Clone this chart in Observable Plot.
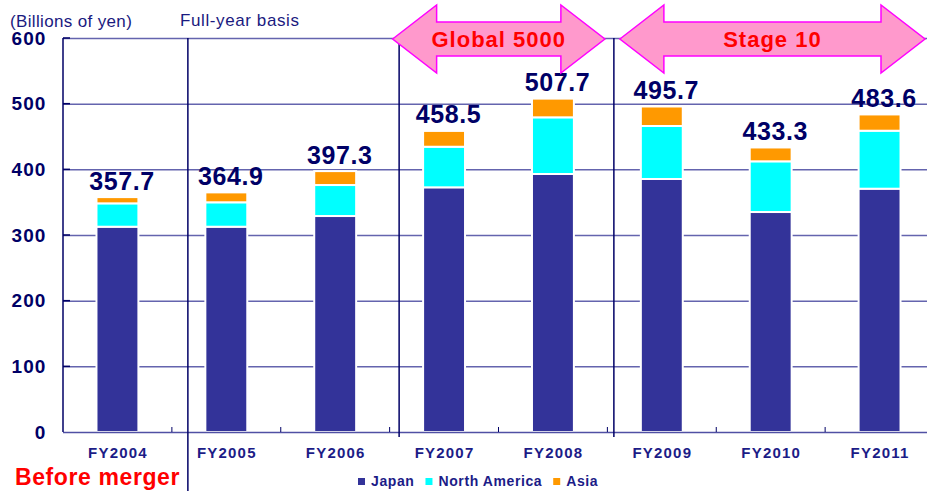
<!DOCTYPE html>
<html>
<head>
<meta charset="utf-8">
<script src="https://cdn.jsdelivr.net/npm/d3@7"></script>
<script src="https://cdn.jsdelivr.net/npm/@observablehq/plot@0.6"></script>
<style>
  body { margin: 0; background: #fff; }
  #wrap { position: relative; width: 927px; height: 491px; overflow: hidden; }
  g[aria-label="x-axis tick label"] text { letter-spacing: 1.2px; }
  g[aria-label="y-axis tick label"] text { letter-spacing: 1.1px; }
  g[aria-label="text"] text { letter-spacing: 0.6px; }
</style>
</head>
<body>
<div id="wrap"></div>
<script>
// ---- data ----
const years = ["FY2004", "FY2005", "FY2006", "FY2007", "FY2008", "FY2009", "FY2010", "FY2011"];
const japan = [312.6, 312.6, 328.9, 372.6, 392.9, 385.3, 335.0, 370.5];
const northAmerica = [35.6, 37.2, 47.2, 61.8, 86.3, 80.7, 77.2, 88.3];
const asia = [9.5, 15.1, 21.2, 24.1, 28.5, 29.7, 21.1, 24.8];
const totals = [357.7, 364.9, 397.3, 458.5, 507.7, 495.7, 433.3, 483.6];
const regions = ["Japan", "North America", "Asia"];
const regionColors = ["#333399", "#00FFFF", "#FF9900"];
const yTicks = [0, 100, 200, 300, 400, 500, 600];
const dividerBefore = ["FY2005", "FY2007", "FY2009"];
const arrowLabels = ["Global 5000", "Stage 10"];
const arrowFrom = ["FY2007", "FY2009"];
const arrowTo = ["FY2008", "FY2011"];
const unitLabel = "(Billions of yen)";
const basisLabel = "Full-year basis";
const mergerLabel = "Before merger";

// ---- tables ----
const rows = years.flatMap((year, i) => [
  {year, region: regions[0], value: japan[i]},
  {year, region: regions[1], value: northAmerica[i]},
  {year, region: regions[2], value: asia[i]}
]);
const totalsTable = years.map((year, i) => ({year, total: totals[i]}));

const font = '"Liberation Sans", Arial, Helvetica, sans-serif';

const chart = Plot.plot({
  width: 927,
  height: 491,
  marginTop: 38,
  marginRight: 0,
  marginBottom: 59,
  marginLeft: 63,
  style: {fontFamily: font, background: "white", overflow: "visible"},
  x: {domain: years, range: [63, 934], paddingInner: 0.615, paddingOuter: 0.3075, align: 0.5, round: false, label: null},
  y: {domain: [0, 600], label: null},
  color: {domain: regions, range: regionColors},
  marks: [
    Plot.ruleY(yTicks.filter(d => d > 0), {stroke: "#6464ae", strokeWidth: 1.5}),
    Plot.barY(rows, {x: "year", y: "value", fill: "region", stroke: "white", strokeWidth: 2}),
    Plot.ruleY([0], {stroke: "#5050a4", strokeWidth: 1.5}),
    Plot.axisY(yTicks, {tickSize: 0, tickPadding: 17, fontSize: 19, fontWeight: "bold", fill: "#000066", label: null}),
    Plot.axisX({tickSize: 0, tickPadding: 14.5, fontSize: 15, fontWeight: "bold", fill: "#1c1c87", label: null}),
    Plot.text(totalsTable, {
      x: "year", y: "total", text: d => d.total.toFixed(1),
      dx: 4, dy: -8, lineAnchor: "bottom",
      fontSize: 25, fontWeight: "bold", fill: "#000066"
    })
  ]
});

document.getElementById("wrap").appendChild(chart);

// ---- decorations drawn with the chart's own scales ----
const svg = d3.select(chart);
const xs = chart.scale("x"), ys = chart.scale("y");
const X = v => xs.apply(v);
const Y = v => ys.apply(v);
const step = xs.step, bw = xs.bandwidth;
const slotStart = v => X(v) - (step - bw) / 2;
const x0 = slotStart(years[0]);
const yTop = Y(600), yBase = Y(0);
const deco = svg.append("g").attr("font-family", font).attr("text-anchor", "start");

// y axis line and inward ticks
deco.append("line").attr("x1", x0).attr("x2", x0).attr("y1", yTop).attr("y2", yBase)
  .attr("stroke", "#000066").attr("stroke-width", 1.5);
yTicks.filter(d => d > 0).forEach(t => {
  deco.append("line").attr("x1", x0).attr("x2", x0 + 7).attr("y1", Y(t)).attr("y2", Y(t))
    .attr("stroke", "#000066").attr("stroke-width", 1.5);
});
// bottom ticks at slot boundaries
years.slice(1).forEach(v => {
  const xx = slotStart(v);
  deco.append("line").attr("x1", xx).attr("x2", xx).attr("y1", yBase).attr("y2", yBase - 5)
    .attr("stroke", "#000066").attr("stroke-width", 1);
});
// dividers
const dividerDx = [16, 9.5, 6.5];
const dividerBottom = [491, yBase + 5, yBase + 5];
dividerBefore.forEach((v, i) => {
  const xx = slotStart(v) + dividerDx[i];
  deco.append("line").attr("x1", xx).attr("x2", xx).attr("y1", yTop).attr("y2", dividerBottom[i])
    .attr("stroke", "#000066").attr("stroke-width", 1.5);
});
// arrows
const arrowInset = [[3, 2.5], [12.5, 9]];
arrowLabels.forEach((lab, i) => {
  const L = slotStart(arrowFrom[i]) + arrowInset[i][0];
  const R = slotStart(arrowTo[i]) + step - arrowInset[i][1];
  const cy = yTop + 1, H = 34, h = 17, a = 44;
  const p = [
    [L, cy], [L + a, cy - H], [L + a, cy - h], [R - a, cy - h], [R - a, cy - H],
    [R, cy], [R - a, cy + H], [R - a, cy + h], [L + a, cy + h], [L + a, cy + H]
  ];
  deco.append("path").attr("d", "M" + p.map(q => q.join(",")).join("L") + "Z")
    .attr("fill", "#FF99CC").attr("stroke", "#FF00FF").attr("stroke-width", 1.5);
  deco.append("text").attr("x", (L + R) / 2).attr("y", cy + 8).attr("text-anchor", "middle")
    .attr("font-size", 22).attr("font-weight", "bold").attr("fill", "#FF0000")
    .style("letter-spacing", "1px").text(lab);
});
// annotations
deco.append("text").attr("x", 10).attr("y", 26.5).attr("font-size", 17).attr("fill", "#1a1a80")
  .style("letter-spacing", "0.35px").text(unitLabel);
deco.append("text").attr("x", 180).attr("y", 26).attr("font-size", 17).attr("fill", "#1a1a80")
  .style("letter-spacing", "0.6px").text(basisLabel);
deco.append("text").attr("x", 15).attr("y", 485).attr("font-size", 23).attr("font-weight", "bold")
  .attr("fill", "#FF0000").style("letter-spacing", "0.6px").text(mergerLabel);

// legend
let lx = 358;
regions.forEach((r, i) => {
  deco.append("rect").attr("x", lx).attr("y", 478).attr("width", 7).attr("height", 7).attr("fill", regionColors[i]);
  const t = deco.append("text").attr("x", lx + 13).attr("y", 486).attr("font-size", 14).attr("font-weight", "bold")
    .attr("fill", "#1c1c87").style("letter-spacing", "0.6px").text(r);
  lx = lx + 13 + t.node().getComputedTextLength() + 11;
});
</script>
</body>
</html>
